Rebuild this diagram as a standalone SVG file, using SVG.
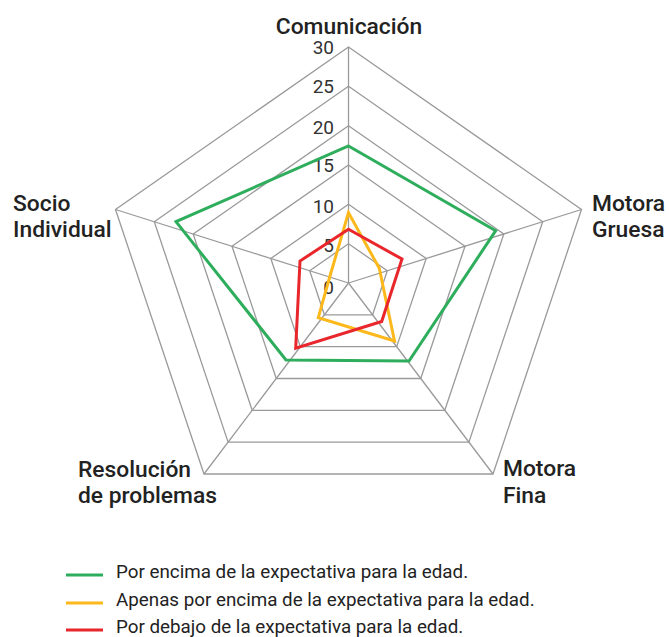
<svg xmlns="http://www.w3.org/2000/svg" width="669" height="637" viewBox="0 0 669 637">
<style>
.grid{fill:none;stroke:#9a9a9a;stroke-width:1.3}
.ser{fill:none;stroke-width:3;stroke-linejoin:miter}
.cat{font-family:Roboto,"Liberation Sans",sans-serif;font-size:22.8px;font-weight:500;fill:#222}
.num{font-family:Roboto,"Liberation Sans",sans-serif;font-size:19px;fill:#333;text-anchor:end}
.leg{font-family:Roboto,"Liberation Sans",sans-serif;font-size:18.8px;fill:#222}
</style>
<rect width="669" height="637" fill="#fff"/>
<g id="grid">
<polygon class="grid" points="348.5,47 581.5,209.5 493,474 204,474 115.5,209.5"/>
<polygon class="grid" points="348.5,86.3 542.7,221.75 468.9,442.2 228.1,442.2 154.3,221.75"/>
<polygon class="grid" points="348.5,125.7 503.8,234 444.8,410.3 252.2,410.3 193.2,234"/>
<polygon class="grid" points="348.5,165 465,246.25 420.75,378.5 276.25,378.5 232,246.25"/>
<polygon class="grid" points="348.5,204.3 426.2,258.5 396.7,346.7 300.3,346.7 270.8,258.5"/>
<polygon class="grid" points="348.5,243.7 387.3,270.75 372.6,314.8 324.4,314.8 309.7,270.75"/>
<line class="grid" x1="348.5" y1="283" x2="348.5" y2="47"/>
<line class="grid" x1="348.5" y1="283" x2="581.5" y2="209.5"/>
<line class="grid" x1="348.5" y1="283" x2="493" y2="474"/>
<line class="grid" x1="348.5" y1="283" x2="204" y2="474"/>
<line class="grid" x1="348.5" y1="283" x2="115.5" y2="209.5"/>
</g>
<g id="scale">
<text class="num" x="334" y="54">30</text>
<text class="num" x="334" y="93">25</text>
<text class="num" x="334" y="134">20</text>
<text class="num" x="334" y="172">15</text>
<text class="num" x="334" y="213">10</text>
<text class="num" x="334" y="252">5</text>
<text class="num" x="334" y="294">0</text>
</g>
<g id="series">
<polygon id="green" class="ser" stroke="#2eae5c" points="348.5,146 495.7,230.7 409,361 286,360 176,221.7"/>
<polygon id="yellow" class="ser" stroke="#fdb91c" points="348.5,212.7 379.3,268.3 394.5,341 318.3,317.7 329.7,277"/>
<polygon id="red" class="ser" stroke="#e8262b" points="348.5,229.3 402,259 381.7,321.5 295.7,348.3 300,261"/>
</g>
<g id="cat-comunicacion"><text class="cat" x="349" y="34" text-anchor="middle">Comunicación</text></g>
<g id="cat-motora-gruesa"><text class="cat" x="592" y="211">Motora</text><text class="cat" x="592" y="237">Gruesa</text></g>
<g id="cat-motora-fina"><text class="cat" x="503" y="476">Motora</text><text class="cat" x="503" y="503">Fina</text></g>
<g id="cat-resolucion"><text class="cat" x="78" y="477">Resolución</text><text class="cat" x="78" y="503">de problemas</text></g>
<g id="cat-socio"><text class="cat" x="13" y="211">Socio</text><text class="cat" x="13" y="237">Individual</text></g>
<g id="legend">
<line x1="66" y1="575" x2="103" y2="575" stroke="#2eae5c" stroke-width="3"/>
<line x1="66" y1="603" x2="103" y2="603" stroke="#fdb91c" stroke-width="3"/>
<line x1="66" y1="630" x2="103" y2="630" stroke="#e8262b" stroke-width="3"/>
<text class="leg" x="116" y="578">Por encima de la expectativa para la edad.</text>
<text class="leg" x="116" y="606">Apenas por encima de la expectativa para la edad.</text>
<text class="leg" x="116" y="633">Por debajo de la expectativa para la edad.</text>
</g>
</svg>
